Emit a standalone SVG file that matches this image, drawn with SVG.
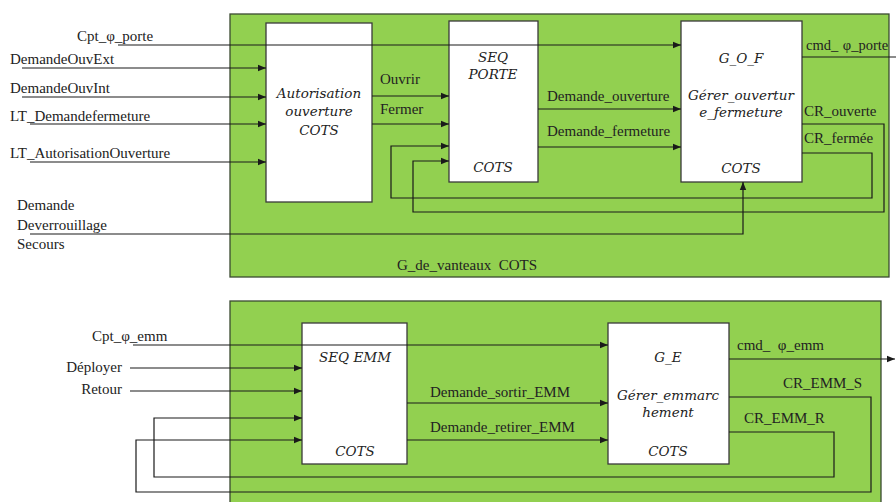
<svg xmlns="http://www.w3.org/2000/svg" width="896" height="502" viewBox="0 0 896 502">
<defs>
<marker id="arr" markerUnits="userSpaceOnUse" markerWidth="8" markerHeight="8" viewBox="0 0 8 8" refX="8" refY="4" orient="auto">
<path d="M0,0.8 L8,4 L0,7.2 Z" fill="#1a1a1a"/>
</marker>
<style>
.grp{fill:#92d050;stroke:#3a4a30;stroke-width:1.3}
.box{fill:#ffffff;stroke:#3a3a3a;stroke-width:1.3}
.ln{fill:none;stroke:#1a1a1a;stroke-width:1.2}
.ar{marker-end:url(#arr)}
</style>
</defs>
<rect width="896" height="502" fill="#ffffff"/>

<g id="G_de_vanteaux">
<rect class="grp" x="230" y="14" width="659" height="263"/>
<text x="397" y="270" font-family="'Liberation Serif', serif" font-size="15" fill="#222" xml:space="preserve">G_de_vanteaux  COTS</text>
</g>
<g id="G_EMM">
<rect class="grp" x="230" y="301" width="651" height="205"/>
</g>

<g font-family="'DejaVu Serif', serif" font-style="italic" font-size="13.5" fill="#222" text-anchor="middle">
<g id="Autorisation">
<rect class="box" x="266" y="23" width="106" height="179"/>
<text x="319" y="98">Autorisation</text>
<text x="319" y="116">ouverture</text>
<text x="319" y="135">COTS</text>
</g>
<g id="SEQ_PORTE">
<rect class="box" x="449" y="21" width="89" height="161"/>
<text x="493" y="62">SEQ</text>
<text x="493" y="79">PORTE</text>
<text x="493" y="172">COTS</text>
</g>
<g id="G_O_F">
<rect class="box" x="681" y="21" width="121" height="161"/>
<text x="741" y="63">G_O_F</text>
<text x="741" y="100">Gérer_ouvertur</text>
<text x="741" y="117">e_fermeture</text>
<text x="741" y="173">COTS</text>
</g>
<g id="SEQ_EMM">
<rect class="box" x="302" y="323" width="105" height="141"/>
<text x="355" y="362">SEQ EMM</text>
<text x="355" y="456">COTS</text>
</g>
<g id="G_E">
<rect class="box" x="608" y="323" width="121" height="141"/>
<text x="668" y="362">G_E</text>
<text x="668" y="400">Gérer_emmarc</text>
<text x="668" y="417">hement</text>
<text x="668" y="456">COTS</text>
</g>
</g>

<g id="connectors">
<path class="ln ar" d="M118,45 H681"/>
<path class="ln ar" d="M22,68 H266"/>
<path class="ln ar" d="M22,97 H266"/>
<path class="ln ar" d="M30,124 H266"/>
<path class="ln ar" d="M30,162 H266"/>
<path class="ln ar" d="M30,234 H743 V182"/>
<path class="ln ar" d="M372,96 H449"/>
<path class="ln ar" d="M372,124 H449"/>
<path class="ln ar" d="M538,109 H681"/>
<path class="ln ar" d="M538,147 H681"/>
<path class="ln" d="M802,57 H896"/>
<path class="ln ar" d="M802,124 H884 V212 H413 V161 H449"/>
<path class="ln ar" d="M802,153 H872 V198 H391 V146 H449"/>

<path class="ln ar" d="M133,345 H608"/>
<path class="ln ar" d="M130,368 H302"/>
<path class="ln ar" d="M130,391 H302"/>
<path class="ln ar" d="M407,403 H608"/>
<path class="ln ar" d="M407,440 H608"/>
<path class="ln ar" d="M729,359 H895"/>
<path class="ln ar" d="M729,432 H834 V477 H154 V418 H302"/>
<path class="ln ar" d="M729,397 H871 V492 H136 V440 H302"/>
</g>

<g id="labels" font-family="'Liberation Serif', serif" font-size="15" fill="#222">
<text x="77" y="41">Cpt_φ_porte</text>
<text x="10" y="64">DemandeOuvExt</text>
<text x="10" y="93">DemandeOuvInt</text>
<text x="10" y="121">LT_Demandefermeture</text>
<text x="10" y="158">LT_AutorisationOuverture</text>
<text x="17" y="210">Demande</text>
<text x="17" y="230">Deverrouillage</text>
<text x="17" y="249">Secours</text>
<text x="380" y="84">Ouvrir</text>
<text x="380" y="114">Fermer</text>
<text x="547" y="101">Demande_ouverture</text>
<text x="547" y="136">Demande_fermeture</text>
<text x="806" y="50" font-size="14.5">cmd_ <tspan dx="1">φ_porte</tspan></text>
<text x="804" y="116">CR_ouverte</text>
<text x="804" y="143">CR_fermée</text>
<text x="92" y="341">Cpt_φ_emm</text>
<text x="122" y="372" text-anchor="end">Déployer</text>
<text x="122" y="394" text-anchor="end">Retour</text>
<text x="430" y="397">Demande_sortir_EMM</text>
<text x="430" y="432">Demande_retirer_EMM</text>
<text x="737" y="350" xml:space="preserve">cmd_  φ_emm</text>
<text x="783" y="388">CR_EMM_S</text>
<text x="744" y="423">CR_EMM_R</text>
</g>
</svg>
